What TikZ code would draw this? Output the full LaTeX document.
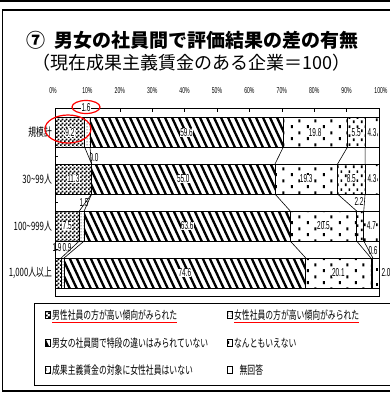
\documentclass[tikz,border=0pt]{standalone}
\usepackage{fontspec}
\setmainfont{Liberation Sans}
\newfontfamily\jp{Noto Sans CJK JP}
\usetikzlibrary{patterns,positioning}

% hatch and dot fills of the bars
\pgfdeclarepatternformonly{hatchdiag}{\pgfqpoint{-1pt}{-1pt}}{\pgfqpoint{8pt}{16pt}}{\pgfqpoint{7pt}{15pt}}{%
  \pgfsetlinewidth{2.3pt}%
  \pgfpathmoveto{\pgfqpoint{-0.467pt}{16pt}}\pgfpathlineto{\pgfqpoint{7.467pt}{-1pt}}%
  \pgfusepath{stroke}}
\pgfdeclarepatternformonly{checker}{\pgfqpoint{0pt}{0pt}}{\pgfqpoint{4pt}{4pt}}{\pgfqpoint{4pt}{4pt}}{%
  \pgfpathrectangle{\pgfqpoint{0pt}{0pt}}{\pgfqpoint{2pt}{2pt}}%
  \pgfpathrectangle{\pgfqpoint{2pt}{2pt}}{\pgfqpoint{2pt}{2pt}}%
  \pgfusepath{fill}}
\pgfdeclarepatternformonly{sparsedots}{\pgfqpoint{0pt}{0pt}}{\pgfqpoint{16pt}{12pt}}{\pgfqpoint{16pt}{12pt}}{%
  \pgfpathrectangle{\pgfqpoint{3pt}{2pt}}{\pgfqpoint{2pt}{3.2pt}}%
  \pgfpathrectangle{\pgfqpoint{11pt}{8pt}}{\pgfqpoint{2pt}{3.2pt}}%
  \pgfusepath{fill}}
\pgfdeclarepatternformonly{densedots}{\pgfqpoint{0pt}{0pt}}{\pgfqpoint{8pt}{9pt}}{\pgfqpoint{8pt}{9pt}}{%
  \pgfpathrectangle{\pgfqpoint{1pt}{1pt}}{\pgfqpoint{1.8pt}{2.8pt}}%
  \pgfpathrectangle{\pgfqpoint{5pt}{5.5pt}}{\pgfqpoint{1.8pt}{2.8pt}}%
  \pgfusepath{fill}}
\pgfdeclarepatternformonly{fewdots}{\pgfqpoint{0pt}{0pt}}{\pgfqpoint{12pt}{15pt}}{\pgfqpoint{12pt}{15pt}}{%
  \pgfpathrectangle{\pgfqpoint{4pt}{3pt}}{\pgfqpoint{1.8pt}{2.8pt}}%
  \pgfusepath{fill}}

\begin{document}
\begin{tikzpicture}[x=1pt, y=-1pt,
    seg/.style={draw, line width=.8pt, minimum height=30pt, minimum width=#1*3.24pt, inner sep=0pt, outer sep=0pt},
    num/.style={font=\fontsize{11.5}{11.5}\selectfont, fill=white, inner sep=.4pt, xscale=.56, transform shape},
    pct/.style={font=\fontsize{8.5}{8.5}\selectfont, inner sep=0pt, xscale=.6, transform shape},
    jptxt/.style={font=\jp\fontsize{11.5}{11.5}\selectfont, inner sep=0pt, xscale=.68, transform shape},
    icon/.style={draw, line width=1pt, minimum width=5pt, minimum height=7.5pt, inner sep=0pt},
    series/.style={line width=.6pt},
    redring/.style={draw=red, line width=1.2pt}]
  \useasboundingbox (0,0) rectangle (390,394);

  % frames
  \draw[line width=2.5pt] (0,1.2) -- (390,1.2);
  \draw[line width=1.5pt] (2.5,10) rectangle (400,391);
  \draw[line width=1pt] (34,303) rectangle (400,385);

  % title
  \node[font=\jp\bfseries\fontsize{19}{19}\selectfont] (title) at (192.5,40) {⑦\hspace{.45em}男女の社員間で評価結果の差の有無};
  \node[font=\jp\fontsize{18}{18}\selectfont] (sub) at (191.5,63) {（現在成果主義賃金のある企業＝100）};

  % axis
  \node[pct] (p0) at (53,90.5) {0\%};
  \node[pct] (p1) at (87.4,90.5) {10\%};
  \node[pct] (p2) at (119.8,90.5) {20\%};
  \node[pct] (p3) at (152.2,90.5) {30\%};
  \node[pct] (p4) at (184.6,90.5) {40\%};
  \node[pct] (p5) at (217,90.5) {50\%};
  \node[pct] (p6) at (249.4,90.5) {60\%};
  \node[pct] (p7) at (281.8,90.5) {70\%};
  \node[pct] (p8) at (314.2,90.5) {80\%};
  \node[pct] (p9) at (346.6,90.5) {90\%};
  \node[pct] (p10) at (381,90.5) {100\%};
  \draw[line width=.8pt] (55,108) rectangle (379,296);
  \draw (87.4,108) -- ++(0,4) (119.8,108) -- ++(0,4) (152.2,108) -- ++(0,4)
        (184.6,108) -- ++(0,4) (217,108) -- ++(0,4) (249.4,108) -- ++(0,4)
        (281.8,108) -- ++(0,4) (314.2,108) -- ++(0,4) (346.6,108) -- ++(0,4);
  \draw (55,156) -- ++(3,0) (55,202.5) -- ++(3,0) (55,249.5) -- ++(3,0);

  % categories
  \node[jptxt, anchor=east] (c1) at (52,132.5) {規模計};
  \node[jptxt, anchor=east] (c2) at (52,179) {30\textasciitilde 99人};
  \node[jptxt, anchor=east] (c3) at (52,226) {100\textasciitilde 999人};
  \node[jptxt, anchor=east] (c4) at (52,273) {1,000人以上};

  % bar 1
  \node[seg=9.2, anchor=west, pattern=checker] (m1) at (55,132.5) {};
  \node[seg=1.6, right=0pt of m1, pattern=dots] (f1) {};
  \node[seg=59.6, right=0pt of f1, pattern=hatchdiag] (t1) {};
  \node[seg=19.8, right=0pt of t1, pattern=sparsedots] (n1) {};
  \node[seg=5.5, right=0pt of n1, pattern=densedots] (z1) {};
  \node[seg=4.3, right=0pt of z1, pattern=fewdots] (r1) {};
  % bar 2
  \node[seg=11.3, anchor=west, pattern=checker] (m2) at (55,179) {};
  \node[seg=0, right=0pt of m2] (f2) {};
  \node[seg=56.6, right=0pt of f2, pattern=hatchdiag] (t2) {};
  \node[seg=19.3, right=0pt of t2, pattern=sparsedots] (n2) {};
  \node[seg=8.5, right=0pt of n2, pattern=densedots] (z2) {};
  \node[seg=4.3, right=0pt of z2, pattern=fewdots] (r2) {};
  % bar 3
  \node[seg=7.5, anchor=west, pattern=checker] (m3) at (55,226) {};
  \node[seg=1.5, right=0pt of m3, pattern=dots] (f3) {};
  \node[seg=63.6, right=0pt of f3, pattern=hatchdiag] (t3) {};
  \node[seg=20.5, right=0pt of t3, pattern=sparsedots] (n3) {};
  \node[seg=2.2, right=0pt of n3, pattern=densedots] (z3) {};
  \node[seg=4.7, right=0pt of z3, pattern=fewdots] (r3) {};
  % bar 4
  \node[seg=1.9, anchor=west, pattern=checker] (m4) at (55,273) {};
  \node[seg=0.9, right=0pt of m4, pattern=dots] (f4) {};
  \node[seg=74.6, right=0pt of f4, pattern=hatchdiag] (t4) {};
  \node[seg=20.1, right=0pt of t4, pattern=sparsedots] (n4) {};
  \node[seg=0.6, right=0pt of n4, pattern=densedots] (z4) {};
  \node[seg=1.9, right=0pt of z4, pattern=fewdots] (r4) {};

  % series lines
  \draw[series] (m1.south east) -- (m2.north east);
  \draw[series] (f1.south east) -- (f2.north east);
  \draw[series] (t1.south east) -- (t2.north east);
  \draw[series] (n1.south east) -- (n2.north east);
  \draw[series] (z1.south east) -- (z2.north east);
  \draw[series] (m2.south east) -- (m3.north east);
  \draw[series] (f2.south east) -- (f3.north east);
  \draw[series] (t2.south east) -- (t3.north east);
  \draw[series] (n2.south east) -- (n3.north east);
  \draw[series] (z2.south east) -- (z3.north east);
  \draw[series] (m3.south east) -- (m4.north east);
  \draw[series] (f3.south east) -- (f4.north east);
  \draw[series] (t3.south east) -- (t4.north east);
  \draw[series] (n3.south east) -- (n4.north east);
  \draw[series] (z3.south east) -- (z4.north east);

  % values
  \node[num] (v1m) at (m1) {9.2};
  \node[num] (v1t) at (t1) {59.6};
  \node[num] (v1n) at (n1) {19.8};
  \node[num] (v1z) at (z1) {5.5};
  \node[num] (v1r) at (r1) {4.3};
  \node[num] (v2m) at (m2) {11.3};
  \node[num] (v2t) at (t2) {55.0};
  \node[num] (v2n) at (n2) {19.3};
  \node[num] (v2z) at (z2) {8.5};
  \node[num] (v2r) at (r2) {4.3};
  \node[num] (v3m) at (m3) {7.5};
  \node[num] (v3t) at (t3) {63.6};
  \node[num] (v3n) at (n3) {20.5};
  \node[num] (v3r) at (r3) {4.7};
  \node[num] (v4t) at (t4) {74.6};
  \node[num] (v4n) at (n4) {20.1};
  \node[num] (v1f) at (86,107.5) {1.6};
  \node[num, fill=none] (v2f) at (94,158) {0.0};
  \node[num, fill=none] (v3f) at (84,202.5) {1.5};
  \node[num, fill=none] (v4m) at (57,248) {1.9};
  \node[num, fill=none] (v4f) at (67,248) {0.9};
  \node[num, fill=none] (v3z) at (359,201) {2.2};
  \node[num, fill=none] (v4z) at (373,250.5) {0.6};
  \node[num, fill=none] (v4r) at (386,273) {2.0};

  % red marks
  \draw[redring] (86,107) ellipse [x radius=14, y radius=6.5];
  \draw[redring] (68,129) ellipse [x radius=23, y radius=14];

  % legend
  \node[icon, pattern=checker] (i1) at (47.5,315) {};
  \node[jptxt, right=1.5pt of i1] (g1) {男性社員の方が高い傾向がみられた};
  \node[icon, pattern=dots] (i2) at (229.5,315) {};
  \node[jptxt, right=1.5pt of i2] (g2) {女性社員の方が高い傾向がみられた};
  \node[icon, pattern=hatchdiag] (i3) at (47.5,343) {};
  \node[jptxt, right=1.5pt of i3] (g3) {男女の社員間で特段の違いはみられていない};
  \node[icon, pattern=sparsedots] (i4) at (229.5,343) {};
  \node[jptxt, right=1.5pt of i4] (g4) {なんともいえない};
  \node[icon, pattern=densedots] (i5) at (47.5,370) {};
  \node[jptxt, right=1.5pt of i5] (g5) {成果主義賃金の対象に女性社員はいない};
  \node[icon, pattern=fewdots] (i6) at (229.5,370) {};
  \node[jptxt, right=7pt of i6] (g6) {無回答};
  \draw[red, line width=1pt] ([yshift=-1.5pt]g1.south west) -- ([yshift=-1.5pt]g1.south east);
  \draw[red, line width=1pt] ([yshift=-1.5pt]g2.south west) -- ([yshift=-1.5pt]g2.south east);
\end{tikzpicture}
\end{document}
